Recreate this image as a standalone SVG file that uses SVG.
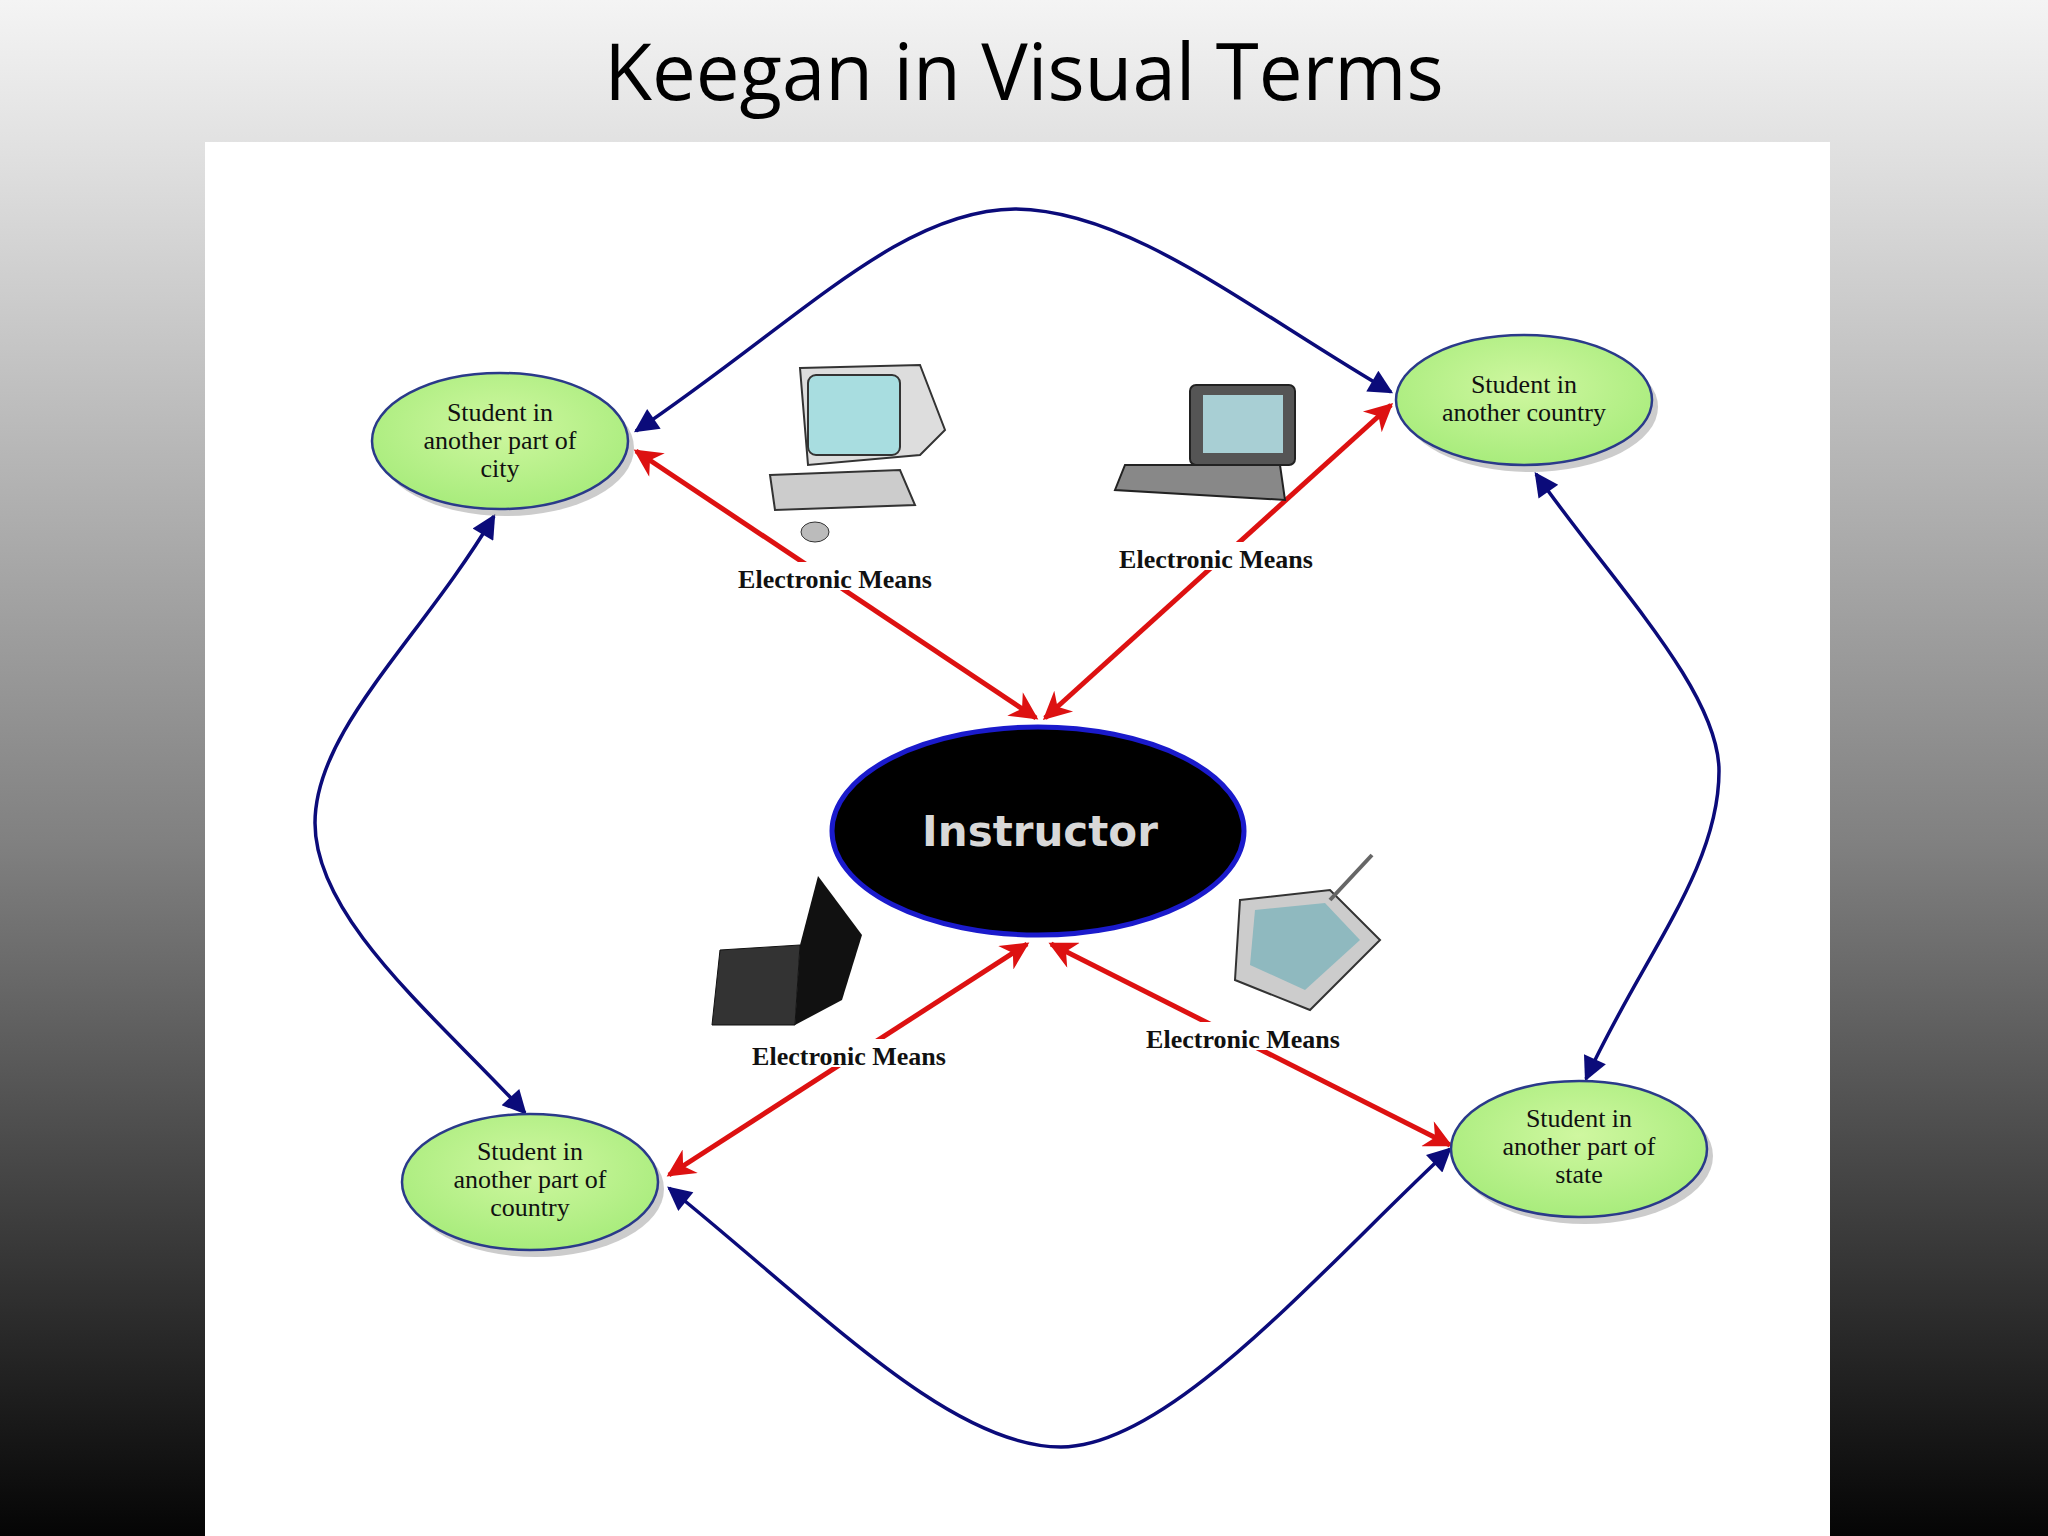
<svg xmlns="http://www.w3.org/2000/svg" width="2048" height="1536" viewBox="0 0 2048 1536">
<defs>
<linearGradient id="bg" x1="0" y1="0" x2="0" y2="1"><stop offset="0" stop-color="#f4f4f4"/><stop offset="0.1" stop-color="#e0e0e0"/><stop offset="0.55" stop-color="#808080"/><stop offset="1" stop-color="#050505"/></linearGradient>
<radialGradient id="gr" cx="0.5" cy="0.4" r="0.6"><stop offset="0" stop-color="#cff7a0"/><stop offset="1" stop-color="#a8ec7c"/></radialGradient>
<marker id="nb" viewBox="0 0 10 10" refX="9" refY="5" markerWidth="28" markerHeight="24" markerUnits="userSpaceOnUse" orient="auto-start-reverse"><path d="M0,0 L10,5 L0,10 Z" fill="#0b0b7a"/></marker>
<marker id="rd" viewBox="0 0 10 10" refX="9" refY="5" markerWidth="32" markerHeight="28" markerUnits="userSpaceOnUse" orient="auto-start-reverse"><path d="M0,0 L10,5 L0,10 L3,5 Z" fill="#dd1111"/></marker>
<style>
.blue{fill:none;stroke:#0b0b7a;stroke-width:3.5}
.red{fill:none;stroke:#dd1111;stroke-width:5}
.st{fill:url(#gr);stroke:#2a3a8a;stroke-width:2.5}
.sh{fill:#999;opacity:0.5}
.t{font-family:"Liberation Serif",serif;font-size:26px;text-anchor:middle;fill:#111}
.em{font-family:"Liberation Serif",serif;font-size:26px;font-weight:bold;text-anchor:middle;fill:#111}
</style>
</defs>
<rect width="2048" height="1536" fill="url(#bg)"/>
<rect x="205" y="142" width="1625" height="1394" fill="#ffffff"/>
<text x="1024" y="100" font-family="'Open Sans',sans-serif" font-size="78" text-anchor="middle" fill="#000">Keegan in Visual Terms</text>
<g id="connectors">
<path class="blue" d="M636,431 C800,320 900,210 1015,209 C1130,210 1250,310 1391,392" marker-start="url(#nb)" marker-end="url(#nb)"/>
<path class="blue" d="M494,516 C420,640 315,730 315,823 C315,920 440,1020 525,1113" marker-start="url(#nb)" marker-end="url(#nb)"/>
<path class="blue" d="M1536,474 C1610,580 1719,690 1719,771 C1719,870 1640,960 1586,1079" marker-start="url(#nb)" marker-end="url(#nb)"/>
<path class="blue" d="M669,1188 C820,1310 950,1447 1061,1447 C1170,1447 1320,1270 1450,1149" marker-start="url(#nb)" marker-end="url(#nb)"/>
<path class="red" d="M636,451 L1036,718" marker-start="url(#rd)" marker-end="url(#rd)"/>
<path class="red" d="M1391,405 L1045,718" marker-start="url(#rd)" marker-end="url(#rd)"/>
<path class="red" d="M1027,944 L669,1175" marker-start="url(#rd)" marker-end="url(#rd)"/>
<path class="red" d="M1051,944 L1450,1145" marker-start="url(#rd)" marker-end="url(#rd)"/>
<rect x="725" y="562" width="220" height="28" fill="#fff"/><text class="em" x="835" y="588">Electronic Means</text>
<rect x="1106" y="542" width="220" height="28" fill="#fff"/><text class="em" x="1216" y="568">Electronic Means</text>
<rect x="739" y="1039" width="220" height="28" fill="#fff"/><text class="em" x="849" y="1065">Electronic Means</text>
<rect x="1133" y="1022" width="220" height="28" fill="#fff"/><text class="em" x="1243" y="1048">Electronic Means</text>
</g>
<g id="city"><ellipse class="sh" cx="506" cy="448" rx="128" ry="68"/><ellipse class="st" cx="500" cy="441" rx="128" ry="68"/><text class="t" x="500" y="421">Student in</text><text class="t" x="500" y="449">another part of</text><text class="t" x="500" y="477">city</text></g>
<g id="country"><ellipse class="sh" cx="1530" cy="407" rx="128" ry="65"/><ellipse class="st" cx="1524" cy="400" rx="128" ry="65"/><text class="t" x="1524" y="393">Student in</text><text class="t" x="1524" y="421">another country</text></g>
<g id="partcountry"><ellipse class="sh" cx="536" cy="1189" rx="128" ry="68"/><ellipse class="st" cx="530" cy="1182" rx="128" ry="68"/><text class="t" x="530" y="1160">Student in</text><text class="t" x="530" y="1188">another part of</text><text class="t" x="530" y="1216">country</text></g>
<g id="state"><ellipse class="sh" cx="1585" cy="1156" rx="128" ry="68"/><ellipse class="st" cx="1579" cy="1149" rx="128" ry="68"/><text class="t" x="1579" y="1127">Student in</text><text class="t" x="1579" y="1155">another part of</text><text class="t" x="1579" y="1183">state</text></g>
<g id="instructor"><ellipse cx="1038" cy="831" rx="206" ry="104" fill="#000" stroke="#1a1acc" stroke-width="5"/><text x="1040" y="846" font-family="'DejaVu Sans',sans-serif" font-weight="bold" font-size="42" text-anchor="middle" fill="#d8d8d8">Instructor</text></g>
<g id="icons">
<path d="M800,368 L920,365 L945,430 L920,455 L808,465 Z" fill="#ddd" stroke="#333" stroke-width="2"/>
<rect x="808" y="375" width="92" height="80" rx="8" fill="#a8dde0" stroke="#333" stroke-width="2"/>
<path d="M770,475 L900,470 L915,505 L775,510 Z" fill="#ccc" stroke="#333" stroke-width="2"/>
<ellipse cx="815" cy="532" rx="14" ry="10" fill="#bbb" stroke="#333"/>
<rect x="1190" y="385" width="105" height="80" rx="6" fill="#555" stroke="#222" stroke-width="2"/>
<rect x="1203" y="395" width="80" height="58" fill="#a8cfd4"/>
<path d="M1125,465 L1280,465 L1285,500 L1115,490 Z" fill="#888" stroke="#222" stroke-width="2"/>
<path d="M720,950 L800,945 L795,1025 L712,1025 Z" fill="#333" stroke="#111"/>
<path d="M800,945 L818,876 L862,935 L842,1000 L795,1025 Z" fill="#111"/>
<path d="M1240,900 L1330,890 L1380,940 L1310,1010 L1235,980 Z" fill="#ccc" stroke="#333" stroke-width="2"/>
<path d="M1255,910 L1325,903 L1360,940 L1305,990 L1250,965 Z" fill="#8fb9bf"/>
<line x1="1330" y1="900" x2="1372" y2="855" stroke="#666" stroke-width="4"/>
</g>
</svg>
